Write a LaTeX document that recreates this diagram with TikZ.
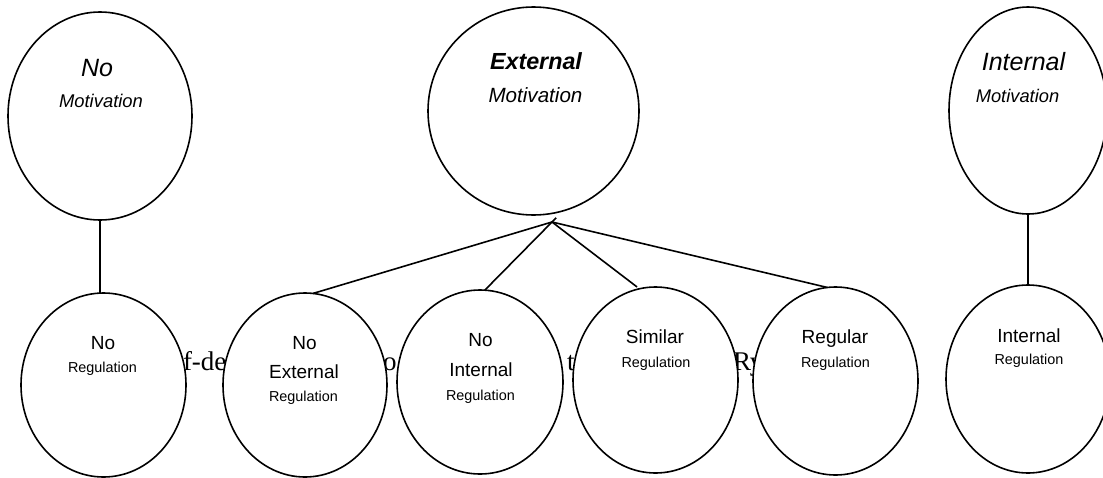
\documentclass[tikz,border=0pt]{standalone}
\usepackage{fontspec}
\setmainfont{Liberation Sans}
\newfontfamily\serifx{Liberation Serif}
\usetikzlibrary{shapes.geometric}
\begin{document}
\begin{tikzpicture}[x=1pt,y=-1pt,
  bub/.style={ellipse, draw, fill=white, line width=1.6pt, inner sep=0pt, outer sep=0pt},
  lbl/.style={anchor=base, inner sep=0pt, outer sep=0pt},
  frag/.style={anchor=base west, inner sep=0pt, outer sep=0pt, font=\serifx\fontsize{27}{30}\selectfont},
  conn/.style={line width=1.6pt}]
\useasboundingbox (0,0) rectangle (1103,477);
% background text fragments (partly hidden behind the ellipses)
\node[frag] (f1) at (183,370) {f-de};
\node[frag] (f2) at (383,370) {o};
\node[frag] (f3) at (567,370) {t};
\node[frag] (f4) at (733,370) {Ry};
% top ellipses
\node[bub, minimum width=184pt, minimum height=208pt] (m1) at (100,116) {};
\node[bub, minimum width=211pt, minimum height=208pt] (m2) at (533.5,111) {};
\node[bub, minimum width=158pt, minimum height=207pt] (m3) at (1028,110.5) {};
% lower ellipses
\node[bub, minimum width=165pt, minimum height=184pt] (l1) at (103.5,385) {};
\node[bub, minimum width=164pt, minimum height=184pt] (l2) at (305,385) {};
\node[bub, minimum width=166pt, minimum height=184pt] (l3) at (480,382) {};
\node[bub, minimum width=165pt, minimum height=186pt] (l4) at (655.5,380) {};
\node[bub, minimum width=165pt, minimum height=188pt] (l5) at (835.5,381) {};
\node[bub, minimum width=164pt, minimum height=188pt] (l6) at (1028,379) {};
% top labels
\node[lbl, font=\itshape\fontsize{25}{30}\selectfont] (t1a) at (97,76) {No};
\node[lbl, font=\itshape\fontsize{18.4}{22}\selectfont] (t1b) at (101,107) {Motivation};
\node[lbl, font=\bfseries\itshape\fontsize{23.3}{28}\selectfont] (t2a) at (536,69) {External};
\node[lbl, font=\itshape\fontsize{20.6}{24}\selectfont] (t2b) at (535.5,102) {Motivation};
\node[lbl, font=\itshape\fontsize{25}{30}\selectfont] (t3a) at (1023.5,70) {Internal};
\node[lbl, font=\itshape\fontsize{18.3}{22}\selectfont] (t3b) at (1017.5,102) {Motivation};
% lower labels
\tikzset{big/.style={lbl, font=\fontsize{19}{23}\selectfont}, small/.style={lbl, font=\fontsize{14.4}{17}\selectfont}}
\node[big] (a1) at (103,349) {No};
\node[small] (a2) at (102.5,372) {Regulation};
\node[big] (b1) at (304.5,349) {No};
\node[big] (b2) at (304,378) {External};
\node[small] (b3) at (303.5,401) {Regulation};
\node[big] (c1) at (480.5,346) {No};
\node[big] (c2) at (481,376) {Internal};
\node[small] (c3) at (480.5,400) {Regulation};
\node[big] (d1) at (655,343) {Similar};
\node[small] (d2) at (656,367) {Regulation};
\node[big] (e1) at (835,343) {Regular};
\node[small] (e2) at (835.5,367) {Regulation};
\node[big] (g1) at (1029,342) {Internal};
\node[small] (g2) at (1029,364) {Regulation};
% connectors
\coordinate (hub) at (552,222);
\draw[conn] (m1.south) -- (m1.south |- l1.north);
\draw[conn] (m3.south) -- (l6.north);
\draw[conn] (hub) -- (l2.85);
\draw[conn, shorten <=-6pt] (hub) -- (l3.87);
\draw[conn, shorten >=3pt] (hub) -- (l4.100);
\draw[conn] (hub) -- (l5.95);
\end{tikzpicture}
\end{document}
